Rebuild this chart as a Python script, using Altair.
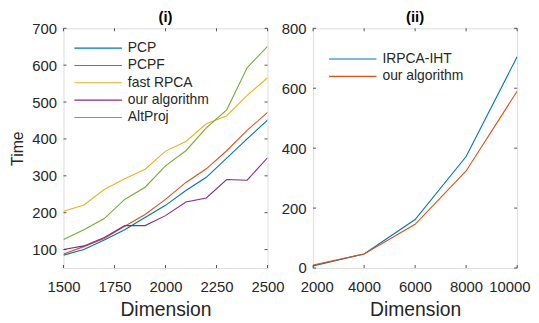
import altair as alt
import pandas as pd

# ---- data ----
dims1 = [1500, 1600, 1700, 1800, 1900, 2000, 2100, 2200, 2300, 2400, 2500]
pcp = [85, 100, 126, 154, 187, 220, 260, 296, 348, 400, 451]
pcpf = [88, 108, 130, 163, 195, 236, 282, 319, 368, 423, 472]
fast_rpca = [204, 221, 263, 292, 318, 367, 393, 441, 463, 518, 566]
our_alg1 = [100, 110, 133, 165, 165, 192, 229, 240, 290, 288, 349]
altproj = [127, 154, 184, 236, 269, 327, 368, 430, 479, 593, 651]

dims2 = [2000, 4000, 6000, 8000, 10000]
irpca_iht = [7, 47, 162, 372, 705]
our_alg2 = [10, 47, 146, 324, 590]

series1 = ["PCP", "PCPF", "fast RPCA", "our algorithm", "AltProj"]
colors1 = ["#0072BD", "#D95319", "#EDB120", "#7E2F8E", "#77AC30"]
series2 = ["IRPCA-IHT", "our algorithm"]
colors2 = ["#0072BD", "#D95319"]

xticks1 = [1500, 1750, 2000, 2250, 2500]
yticks1 = [100, 200, 300, 400, 500, 600, 700]
xticks2 = [2000, 4000, 6000, 8000, 10000]
yticks2 = [0, 200, 400, 600, 800]

FONT = "Liberation Sans"
W, H = 206, 242
TICK = 3
AX = "#262626"

rows1 = []
for name, vals in zip(series1, [pcp, pcpf, fast_rpca, our_alg1, altproj]):
    for d, v in zip(dims1, vals):
        rows1.append({"Dimension": d, "Time": v, "series": name})
df1 = pd.DataFrame(rows1)

rows2 = []
for name, vals in zip(series2, [irpca_iht, our_alg2]):
    for d, v in zip(dims2, vals):
        rows2.append({"Dimension": d, "Time": v, "series": name})
df2 = pd.DataFrame(rows2)

# long horizontal stroke symbol (length 6 * sqrt(size)/2)
LEG_PATH = "M-3,0H3"


def panel(df, series, colors, xticks, yticks, xdom, ydom, title, ytitle, lx, ly, flush):
    xs = alt.Scale(domain=xdom, nice=False, zero=False)
    ys = alt.Scale(domain=ydom, nice=False, zero=False)
    common = dict(grid=False, ticks=False, domain=False, labelFontSize=15,
                  titleFontWeight="normal", labelColor=AX,
                  titleColor=AX, labelFont=FONT, titleFont=FONT, format="d",
                  labelOverlap=False, labelBound=False)
    xflush = dict(labelFlush=True, labelFlushOffset=13) if flush else dict(labelFlush=False)
    xaxis = alt.Axis(values=xticks, title="Dimension", labelPadding=12, titlePadding=6,
                     titleFontSize=19.5, **xflush, **common)
    yaxis = alt.Axis(values=yticks, title=ytitle, labelPadding=7, titlePadding=6.5,
                     titleFontSize=16, labelFlush=False, **common)
    lines = alt.Chart(df).mark_line(strokeWidth=1.1, clip=True).encode(
        x=alt.X("Dimension:Q", scale=xs, axis=xaxis),
        y=alt.Y("Time:Q", scale=ys, axis=yaxis),
        color=alt.Color("series:N", scale=alt.Scale(domain=series, range=colors),
                        sort=series,
                        legend=alt.Legend(title=None, orient="none", legendX=lx, legendY=ly,
                                          symbolType=LEG_PATH, symbolSize=256,
                                          symbolStrokeWidth=1.1, labelFontSize=14,
                                          labelFont=FONT, labelColor=AX, padding=0,
                                          rowPadding=1.5, labelOffset=21)),
        detail="series:N",
    )
    xt = pd.DataFrame({"Dimension": xticks})
    yt = pd.DataFrame({"Time": yticks})
    bx = alt.Chart(xt).mark_rule(color=AX, strokeWidth=0.8).encode(
        x=alt.X("Dimension:Q", scale=xs), y=alt.value(H), y2=alt.value(H - TICK))
    tx = alt.Chart(xt).mark_rule(color=AX, strokeWidth=0.8).encode(
        x=alt.X("Dimension:Q", scale=xs), y=alt.value(0), y2=alt.value(TICK))
    ly_ = alt.Chart(yt).mark_rule(color=AX, strokeWidth=0.8).encode(
        y=alt.Y("Time:Q", scale=ys), x=alt.value(0), x2=alt.value(TICK))
    ry = alt.Chart(yt).mark_rule(color=AX, strokeWidth=0.8).encode(
        y=alt.Y("Time:Q", scale=ys), x=alt.value(W), x2=alt.value(W - TICK))
    return alt.layer(lines, bx, tx, ly_, ry).properties(
        width=W, height=H,
        title=alt.TitleParams(title, fontSize=15, fontWeight="bold", font=FONT,
                              color="#000000", offset=-4),
    )


p1 = panel(df1, series1, colors1, xticks1, yticks1, [1500, 2500], [50, 700],
           "(i)", "Time", 26, 11, False)
p2 = panel(df2, series2, colors2, xticks2, yticks2, [2000, 10000], [0, 800],
           "(ii)", "", 31, 22, True)

chart = alt.hconcat(p1, p2, spacing=-5).resolve_scale(color="independent").properties(
    padding={"left": 0, "top": 0, "right": 0, "bottom": 0}
).configure_view(stroke=AX, strokeWidth=0.8).configure(background="white")

chart.save("out.html", embed_options={"renderer": "svg", "actions": False})
